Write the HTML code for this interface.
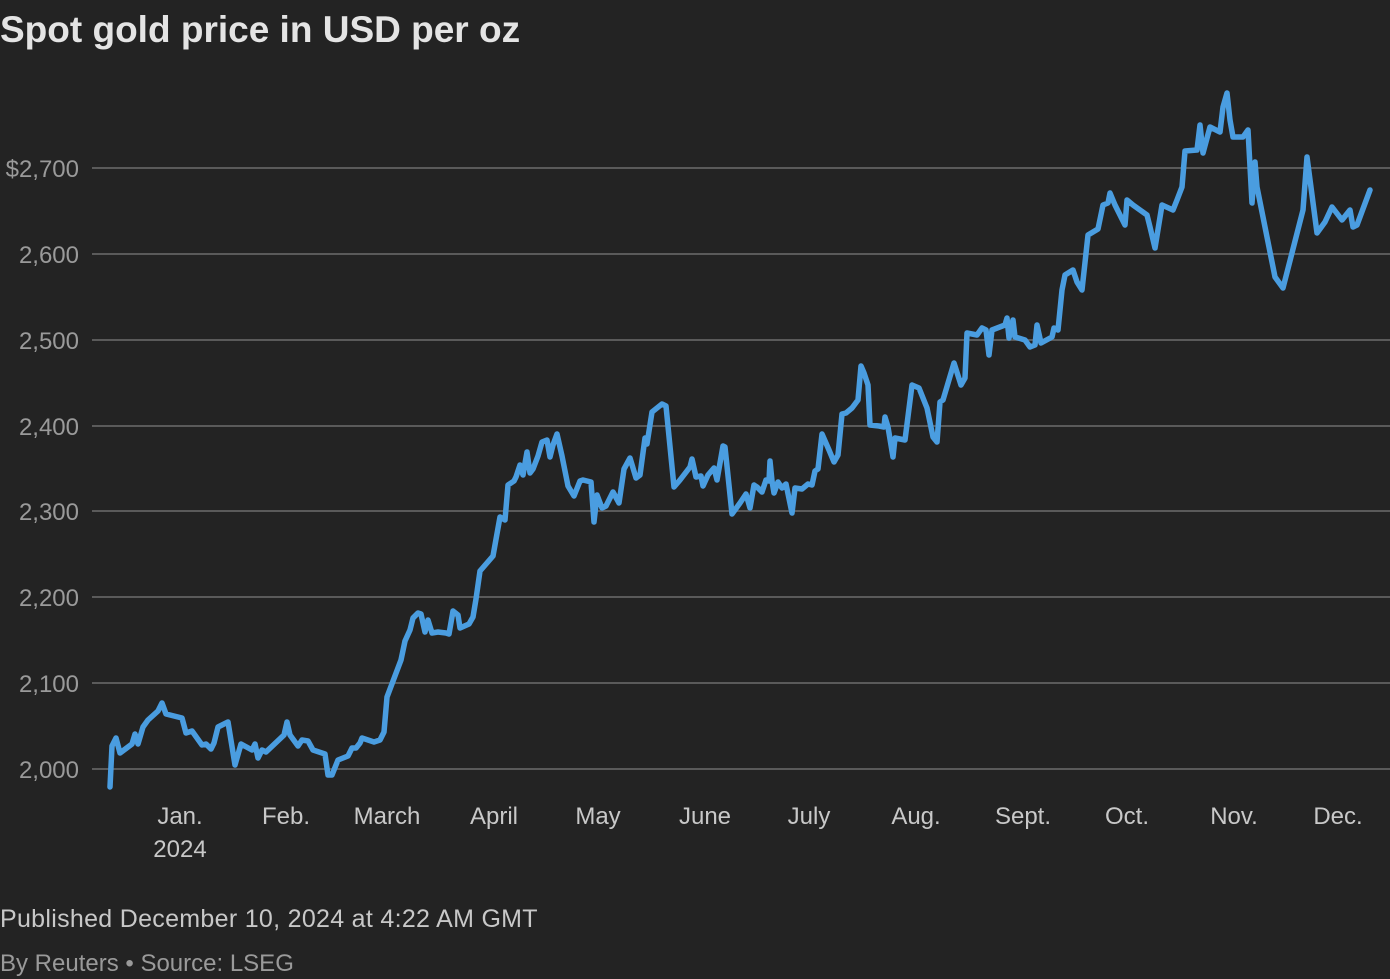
<!DOCTYPE html>
<html><head><meta charset="utf-8"><style>
html,body{margin:0;padding:0;background:#232323;}
body{width:1390px;height:979px;overflow:hidden;position:relative;font-family:"Liberation Sans",sans-serif;}
.t{position:absolute;white-space:nowrap;}
</style></head><body>
<div class="t" style="left:0;top:9px;font-size:37px;font-weight:bold;color:#e4e4e4;letter-spacing:0px">Spot gold price in USD per oz</div>
<svg width="1390" height="979" style="position:absolute;left:0;top:0" font-family="Liberation Sans, sans-serif">
<g stroke="#5a5a5a" stroke-width="2">
<line x1="92" x2="1390" y1="168" y2="168"/><line x1="92" x2="1390" y1="254" y2="254"/>
<line x1="92" x2="1390" y1="340" y2="340"/><line x1="92" x2="1390" y1="426" y2="426"/>
<line x1="92" x2="1390" y1="511" y2="511"/><line x1="92" x2="1390" y1="597" y2="597"/>
<line x1="92" x2="1390" y1="683" y2="683"/><line x1="92" x2="1390" y1="769" y2="769"/>
</g>
<g fill="#9a9a9a" font-size="24" text-anchor="end">
<text x="79" y="177">$2,700</text><text x="79" y="263">2,600</text><text x="79" y="349">2,500</text>
<text x="79" y="435">2,400</text><text x="79" y="520">2,300</text><text x="79" y="606">2,200</text>
<text x="79" y="692">2,100</text><text x="79" y="778">2,000</text>
</g>
<g fill="#c8c8c8" font-size="24" text-anchor="middle">
<text x="180" y="824">Jan.</text><text x="180" y="857">2024</text>
<text x="286" y="824">Feb.</text><text x="387" y="824">March</text><text x="494" y="824">April</text>
<text x="598" y="824">May</text><text x="705" y="824">June</text><text x="809" y="824">July</text>
<text x="916" y="824">Aug.</text><text x="1023" y="824">Sept.</text><text x="1127" y="824">Oct.</text>
<text x="1234" y="824">Nov.</text><text x="1338" y="824">Dec.</text>
</g>
<polyline fill="none" stroke="#4a9de0" stroke-width="5.5" stroke-linejoin="round" stroke-linecap="round" points="110,787 112,746 116,738 120,753 132,744 135,734 138,744 143,727 148,720 158,711 162,703 166,714 182,718 186,733 192,731 202,745 206,744 211,749 214,743 218,727 228,722 235,765 241,744 252,750 255,744 258,758 262,750 266,752 284,735 287,722 290,735 298,746 302,740 308,741 313,750 325,754 328,775 332,775 338,760 348,756 352,748 356,748 360,743 362,738 374,742 380,740 384,732 387,697 401,660 405,641 410,630 413,618 418,613 421,614 425,632 428,620 432,633 438,632 446,633 449,634 453,611 458,615 460,628 469,624 473,617 476,599 480,571 493,556 500,517 505,520 508,485 514,481 516,477 520,465 523,475 527,452 530,473 533,469 538,456 542,442 547,440 550,457 553,445 557,434 562,456 568,486 574,496 580,481 583,480 591,482 594,522 597,495 602,508 606,506 613,492 619,503 624,469 630,458 636,478 640,475 645,438 647,444 652,412 662,404 666,406 674,487 680,480 690,467 692,459 696,477 701,476 703,486 708,475 714,468 717,480 723,446 725,447 732,514 740,503 746,494 750,508 754,485 757,487 762,492 766,480 769,481 770,461 772,481 774,493 778,482 782,488 786,484 792,513 795,488 802,489 808,484 812,485 815,471 818,469 822,434 829,450 834,462 838,455 842,414 846,413 852,408 858,400 861,366 864,373 868,385 870,425 879,426 884,427 885,417 888,427 893,457 895,438 905,440 912,385 919,388 927,408 933,437 937,442 940,402 943,400 954,363 961,385 965,378 967,333 977,335 982,328 986,330 989,355 992,330 1005,325 1007,318 1009,338 1013,320 1015,337 1025,340 1030,347 1035,345 1037,325 1041,343 1052,337 1054,328 1058,330 1062,290 1065,275 1073,270 1077,282 1082,290 1088,235 1098,229 1103,205 1108,203 1110,193 1115,205 1125,225 1127,200 1133,205 1147,215 1150,227 1155,248 1162,205 1173,210 1177,200 1182,187 1185,151 1197,150 1200,125 1203,153 1210,127 1220,132 1223,107 1227,93 1230,120 1233,137 1243,137 1248,130 1252,203 1255,162 1257,187 1275,277 1283,288 1303,210 1307,157 1317,233 1325,222 1332,207 1342,220 1350,210 1353,227 1357,225 1370,190"/>
</svg>
<div class="t" style="left:0;top:905px;font-size:25px;color:#c8c8c8;letter-spacing:0.3px">Published December 10, 2024 at 4:22 AM GMT</div>
<div class="t" style="left:0;top:950px;font-size:24px;color:#9a9a9a">By Reuters • Source: LSEG</div>
</body></html>
